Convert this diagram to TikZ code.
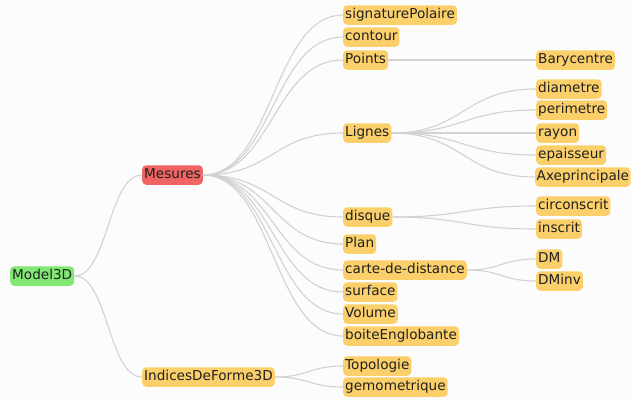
\documentclass[tikz,border=0pt]{standalone}
\usepackage{fontspec}
\setmainfont{DejaVu Sans}
\usetikzlibrary{calc}
\definecolor{leaf}{HTML}{FBD06B}
\definecolor{focus}{HTML}{F06464}
\definecolor{root}{HTML}{80E873}
\definecolor{wire}{HTML}{D2D2D2}
\definecolor{paper}{HTML}{FCFCFC}
\definecolor{ink}{HTML}{202020}
\tikzset{
  item/.style={anchor=west, rounded corners=4pt, fill=leaf, inner xsep=2pt,
    inner ysep=3pt, text height=10.5pt, text depth=3pt, text=ink,
    font=\fontsize{13.6}{16}\selectfont},
  link/.style={draw=wire, line width=1.1pt}
}
\begin{document}
\begin{tikzpicture}[x=1pt,y=-1pt]
\fill[paper] (0,0) rectangle (631,400);
\useasboundingbox (0,0) rectangle (631,400);
% root and first level
\node[item,fill=root] (model) at (10,276) {Model3D};
\node[item,fill=focus] (mesures) at (142,175) {Mesures};
\node[item] (indices) at (142,377) {IndicesDeForme3D};
% second level
\node[item] (signature) at (343,15) {signaturePolaire};
\node[item] (contour) at (343,37) {contour};
\node[item] (points) at (343,60) {Points};
\node[item] (lignes) at (343,133) {Lignes};
\node[item] (disque) at (343,217) {disque};
\node[item] (plan) at (343,244) {Plan};
\node[item] (carte) at (343,270) {carte-de-distance};
\node[item] (surface) at (343,292) {surface};
\node[item] (volume) at (343,314) {Volume};
\node[item] (boite) at (343,336) {boiteEnglobante};
\node[item] (topologie) at (343,366) {Topologie};
\node[item] (geometrique) at (343,387) {gemometrique};
% third level
\node[item] (barycentre) at (536,60) {Barycentre};
\node[item] (diametre) at (536,89) {diametre};
\node[item] (perimetre) at (536,110) {perimetre};
\node[item] (rayon) at (536,133) {rayon};
\node[item] (epaisseur) at (536,155) {epaisseur};
\node[item,inner xsep=1.5pt] (axe) at (535,177) {Axeprincipale};
\node[item] (circonscrit) at (536,206) {circonscrit};
\node[item] (inscrit) at (536,229) {inscrit};
\node[item] (dm) at (536,259) {DM};
\node[item] (dminv) at (536,281) {DMinv};
% links
\foreach \a/\b in {model/mesures, model/indices,
  mesures/signature, mesures/contour, mesures/points, mesures/lignes,
  mesures/disque, mesures/plan, mesures/carte, mesures/surface,
  mesures/volume, mesures/boite, indices/topologie, indices/geometrique,
  points/barycentre, lignes/diametre, lignes/perimetre, lignes/rayon,
  lignes/epaisseur, lignes/axe, disque/circonscrit, disque/inscrit,
  carte/dm, carte/dminv}
  \draw[link] let \p1=(\a.east), \p2=(\b.west) in
    (\p1) .. controls ({(\x1+\x2)/2},\y1) and ({(\x1+\x2)/2},\y2) .. (\p2);
\end{tikzpicture}
\end{document}
